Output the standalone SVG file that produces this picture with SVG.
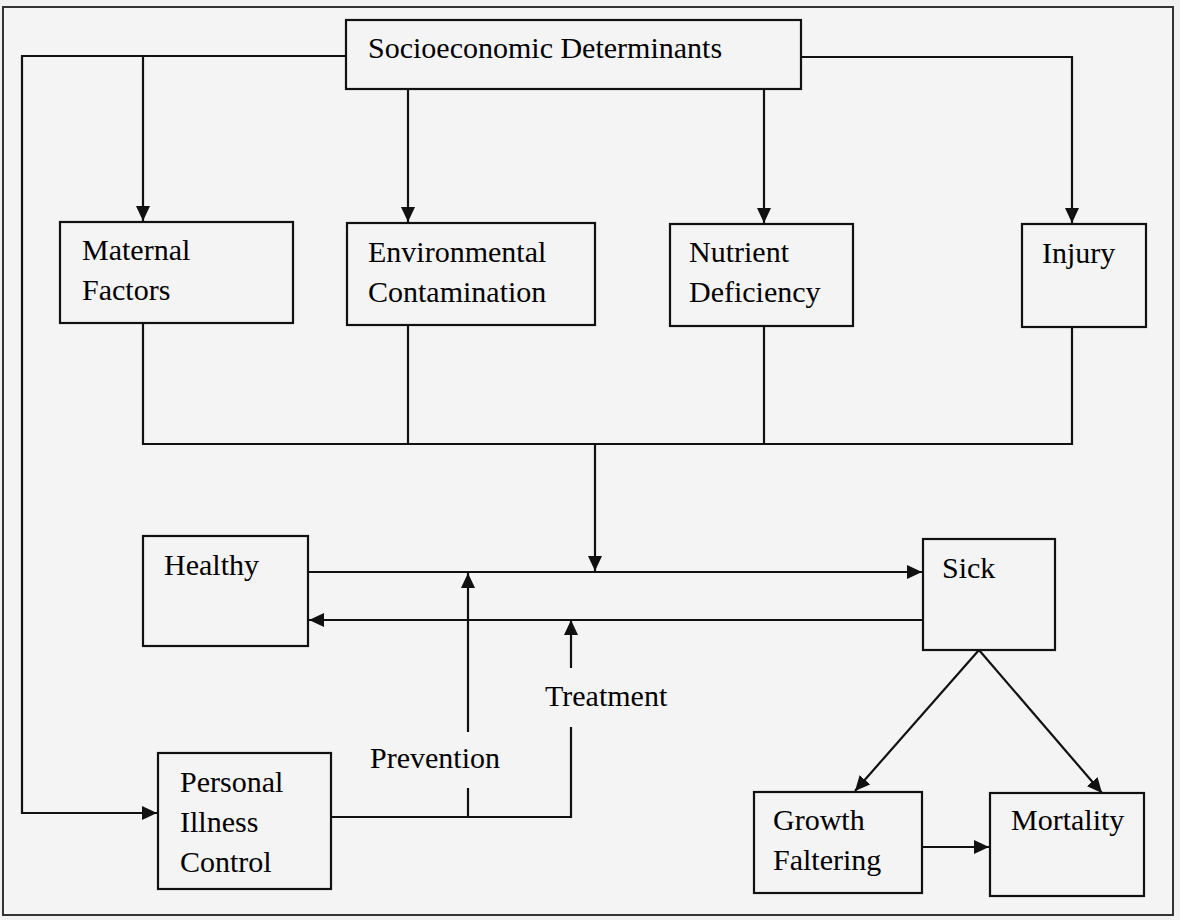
<svg xmlns="http://www.w3.org/2000/svg" width="1180" height="920" viewBox="0 0 1180 920">
<style>
.box{fill:none;stroke:#111;stroke-width:2.2}
.ln{fill:none;stroke:#111;stroke-width:2.2}
text{font-family:"Liberation Serif","Times New Roman",serif;font-size:30px;fill:#000}
</style>
<defs>
<marker id="ah" markerUnits="userSpaceOnUse" markerWidth="16" markerHeight="14" refX="15" refY="7" orient="auto">
<path d="M0,0 L15,7 L0,14 z" fill="#111"/>
</marker>
</defs>
<rect x="0" y="0" width="1180" height="920" fill="#f1f1f1"/>
<rect x="3" y="7" width="1170" height="908" fill="#f4f4f4" stroke="#333" stroke-width="2"/>
<g id="connectors">
<path class="ln" d="M346,56 H22 V813 H157" marker-end="url(#ah)"/>
<path class="ln" d="M143,56 V221" marker-end="url(#ah)"/>
<path class="ln" d="M408,89 V222" marker-end="url(#ah)"/>
<path class="ln" d="M764,89 V223" marker-end="url(#ah)"/>
<path class="ln" d="M801,57 H1072 V223" marker-end="url(#ah)"/>
<path class="ln" d="M143,323 V444 H1072 V327"/>
<path class="ln" d="M408,325 V444"/>
<path class="ln" d="M764,326 V444"/>
<path class="ln" d="M595,444 V571" marker-end="url(#ah)"/>
<path class="ln" d="M308,572 H922" marker-end="url(#ah)"/>
<path class="ln" d="M923,620 H309" marker-end="url(#ah)"/>
<path class="ln" d="M331,817 H571 V727"/>
<path class="ln" d="M571,668 V620" marker-end="url(#ah)"/>
<path class="ln" d="M468,817 V788"/>
<path class="ln" d="M468,732 V573" marker-end="url(#ah)"/>
<path class="ln" d="M979,650 L855,791" marker-end="url(#ah)"/>
<path class="ln" d="M979,650 L1102,793" marker-end="url(#ah)"/>
<path class="ln" d="M922,847 H989" marker-end="url(#ah)"/>
</g>
<g id="socioeconomic">
<rect class="box" x="346" y="20" width="455" height="69"/>
<text x="368" y="58">Socioeconomic Determinants</text>
</g>
<g id="maternal">
<rect class="box" x="60" y="222" width="233" height="101"/>
<text x="82" y="260">Maternal</text>
<text x="82" y="300">Factors</text>
</g>
<g id="environmental">
<rect class="box" x="347" y="223" width="248" height="102"/>
<text x="368" y="262">Environmental</text>
<text x="368" y="302">Contamination</text>
</g>
<g id="nutrient">
<rect class="box" x="670" y="224" width="183" height="102"/>
<text x="689" y="262">Nutrient</text>
<text x="689" y="302">Deficiency</text>
</g>
<g id="injury">
<rect class="box" x="1022" y="224" width="124" height="103"/>
<text x="1042" y="263">Injury</text>
</g>
<g id="healthy">
<rect class="box" x="143" y="536" width="165" height="110"/>
<text x="164" y="575">Healthy</text>
</g>
<g id="sick">
<rect class="box" x="923" y="539" width="132" height="111"/>
<text x="942" y="578">Sick</text>
</g>
<g id="treatment">
<text x="545" y="706">Treatment</text>
</g>
<g id="prevention">
<text x="370" y="768">Prevention</text>
</g>
<g id="personal">
<rect class="box" x="158" y="753" width="173" height="136"/>
<text x="180" y="792">Personal</text>
<text x="180" y="832">Illness</text>
<text x="180" y="872">Control</text>
</g>
<g id="growth">
<rect class="box" x="754" y="792" width="168" height="101"/>
<text x="773" y="830">Growth</text>
<text x="773" y="870">Faltering</text>
</g>
<g id="mortality">
<rect class="box" x="990" y="793" width="154" height="103"/>
<text x="1011" y="830">Mortality</text>
</g>
</svg>
